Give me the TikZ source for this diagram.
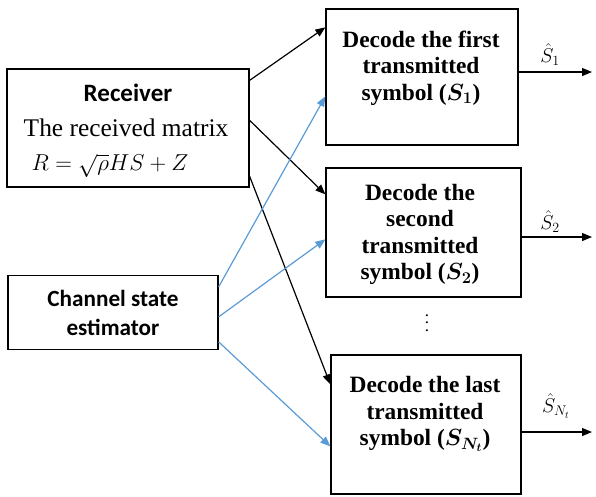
\RequirePackage{fix-cm}
\documentclass[tikz,border=0pt]{standalone}
\usepackage{amsmath}
\usepackage{fontspec}
\setmainfont{Liberation Serif}
\newfontfamily\calib{Carlito}
\usetikzlibrary{arrows.meta,calc}
\definecolor{lineblue}{RGB}{91,155,213}
\begin{document}
\begin{tikzpicture}[x=1pt,y=-1pt,
  box/.style={draw, line width=1.3pt, inner sep=0pt, fill=none},
  btxt/.style={align=center, inner sep=0pt, font=\fontsize{23.4}{26.5}\selectfont\bfseries},
  blk/.style={draw=black, line width=1.2pt, -{Triangle[length=10pt,width=8pt]}},
  blu/.style={draw=lineblue, line width=1.2pt, -{Triangle[length=10pt,width=8pt]}},
  outl/.style={inner sep=0pt, font=\fontsize{20}{20}\selectfont}]
\useasboundingbox (0,0) rectangle (596,496);
% boxes
\node[box, minimum width=242pt, minimum height=118pt] (rec) at (128,128) {};
\node[box, minimum width=210pt, minimum height=74pt] (chan) at (113,312.5) {};
\node[box, minimum width=192pt, minimum height=136pt] (d1) at (422,77) {};
\node[box, minimum width=195pt, minimum height=129pt] (d2) at (423.5,232.5) {};
\node[box, minimum width=190pt, minimum height=139pt] (d3) at (426,424.5) {};
% texts
\node[inner sep=0pt, font=\calib\fontsize{25}{25}\selectfont\bfseries] (rect) at (128,93) {Receiver};
\node[inner sep=0pt, font=\fontsize{25.4}{25.4}\selectfont] (recm) at (126,128) {The received matrix};
\node[inner sep=0pt, font=\fontsize{23}{23}\selectfont] (rece) at (110,166) {$R=\sqrt{\rho}HS+Z$};
\node[align=center, inner sep=0pt, font=\calib\fontsize{23.2}{29}\selectfont\bfseries] (chant) at (113,312.5) {Channel state\\estimator};
\node[btxt] (d1t) at (421,68) {Decode the first\\transmitted\\symbol ($\boldsymbol{S_1}$)};
\node[btxt] (d2t) at (420,234.5) {Decode the\\second\\transmitted\\symbol ($\boldsymbol{S_2}$)};
\node[btxt] (d3t) at (425,414) {Decode the last\\transmitted\\symbol ($\boldsymbol{S_{N_t}}$)};
\node[align=center, inner sep=0pt, font=\fontsize{17}{7.5}\selectfont] (dots) at (427,323) {.\\.\\.};
% black arrows
\draw[blk] ($(rec.north east)+(0,12)$) -- ($(d1.north west)+(0,19)$);
\draw[blk] ($(rec.north east)+(0,52)$) -- ($(d2.north west)+(0,27)$);
\draw[blk] ($(rec.north east)+(0,108)$) -- ($(d3.north west)+(0,30)$);
% blue arrows
\draw[blu] ($(chan.north east)+(0,12)$) -- ($(d1.north west)+(0,88)$);
\draw[blu] ($(chan.north east)+(0,42)$) -- ($(d2.north west)+(0,72)$);
\draw[blu] ($(chan.north east)+(0,67)$) -- ($(d3.north west)+(0,92)$);
% outputs
\coordinate (o1) at (592,72);
\coordinate (o2) at (592,237);
\coordinate (o3) at (592,432);
\draw[blk] (d1.east |- o1) -- (o1);
\draw[blk] (d2.east |- o2) -- (o2);
\draw[blk] (d3.east |- o3) -- (o3);
\node[outl] (l1) at (550,55) {$\hat{S}_1$};
\node[outl] (l2) at (550,222) {$\hat{S}_2$};
\node[outl] (l3) at (556,406) {$\hat{S}_{N_t}$};
\end{tikzpicture}
\end{document}
